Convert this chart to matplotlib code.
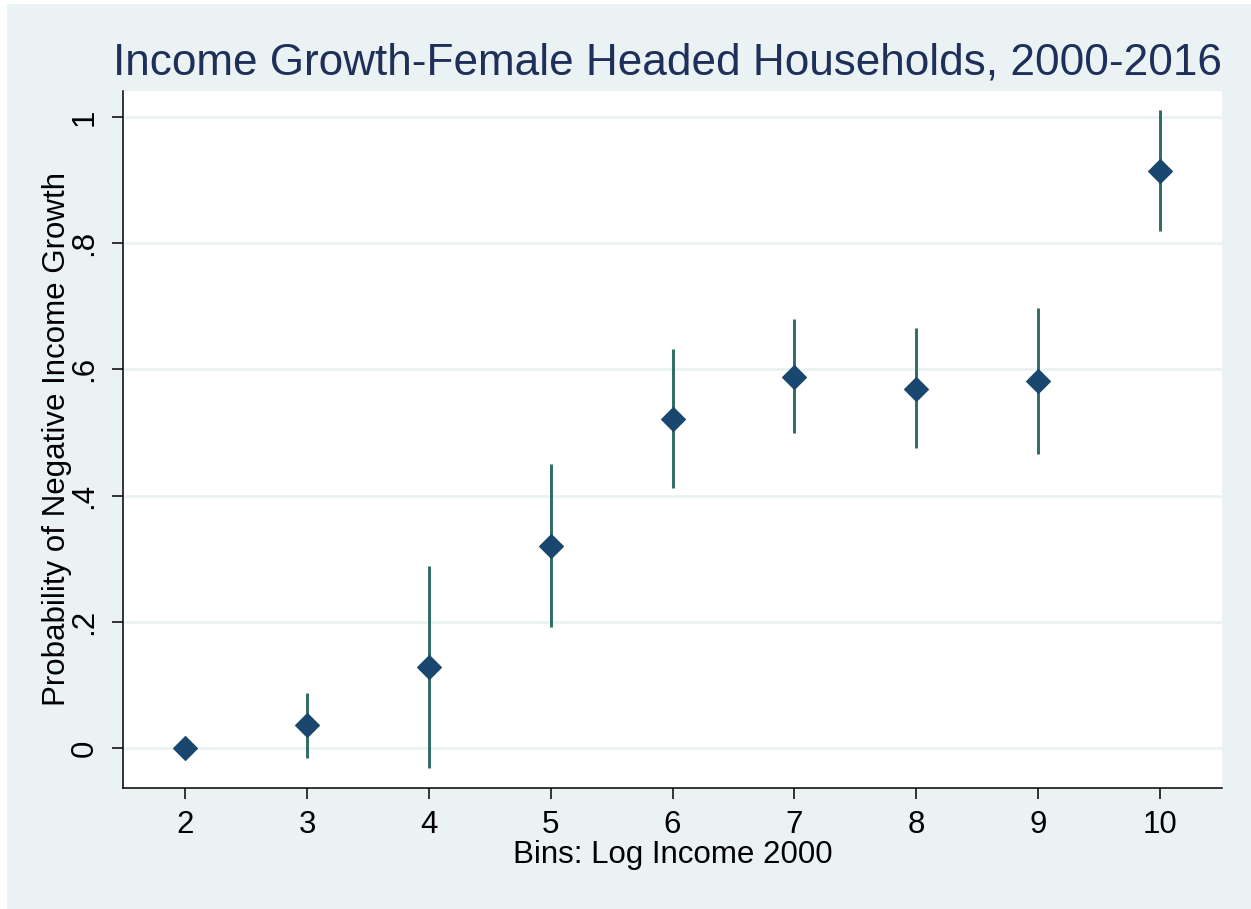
import matplotlib
matplotlib.use("Agg")
import matplotlib.pyplot as plt
from matplotlib.patches import Rectangle

# Data
bins = [2, 3, 4, 5, 6, 7, 8, 9, 10]
prob = [0.0, 0.037, 0.129, 0.320, 0.522, 0.588, 0.569, 0.581, 0.915]
ci_low = [0.0, -0.016, -0.031, 0.192, 0.412, 0.500, 0.475, 0.466, 0.820]
ci_high = [0.0, 0.088, 0.289, 0.450, 0.633, 0.680, 0.665, 0.697, 1.011]
xticks = [2, 3, 4, 5, 6, 7, 8, 9, 10]
yticks = [0, 0.2, 0.4, 0.6, 0.8, 1.0]
ytick_labels = ["0", ".2", ".4", ".6", ".8", "1"]

title = "Income Growth-Female Headed Households, 2000-2016"
xlabel = "Bins: Log Income 2000"
ylabel = "Probability of Negative Income Growth"

plt.rcParams['font.family'] = ['Liberation Sans', 'DejaVu Sans']

W, H = 1251, 909
fig = plt.figure(figsize=(W / 100, H / 100), dpi=100)
fig.patch.set_facecolor('white')
bg = Rectangle((7 / W, 0), 1 - 7 / W, (H - 4) / H, transform=fig.transFigure,
               facecolor='#EAF2F3', edgecolor='none', zorder=-10)
fig.patches.append(bg)

ax = fig.add_axes([123 / W, (H - 788) / H, (1222 - 123) / W, (788 - 91) / H])
ax.set_facecolor('white')

# error bars (no caps)
ax.vlines(bins[1:], ci_low[1:], ci_high[1:], color='#2E6B64', linewidth=2.1, zorder=3)
ax.plot(bins, prob, linestyle='none', marker='D', markersize=11.8,
        markerfacecolor='#1A476F', markeredgecolor='#1A476F', markeredgewidth=0.8, zorder=4)

ax.set_xlim(1.49, 10.51)
ax.set_ylim(-0.063, 1.041)
ax.set_xticks(xticks)
ax.set_xticklabels([str(x) for x in xticks])
ax.set_yticks(yticks)
ax.set_yticklabels(ytick_labels, rotation=90, va='center')

ax.grid(axis='y', color='#EAF2F3', linewidth=2.0, zorder=0)
ax.set_axisbelow(True)

for s in ['top', 'right']:
    ax.spines[s].set_visible(False)
for s in ['left', 'bottom']:
    ax.spines[s].set_linewidth(1.1)
    ax.spines[s].set_color('black')

ax.tick_params(axis='both', direction='out', length=8, width=1.1, labelsize=22.5, colors='black', pad=8)
ax.tick_params(axis='y', pad=9)

ax.set_xlabel(xlabel, fontsize=22.5, labelpad=0)
ax.set_ylabel(ylabel, fontsize=22.5, labelpad=-2)
ax.set_title(title, fontsize=31.8, color='#1E2F5A', pad=12, x=0.495)

fig.savefig("out.png", dpi=100, facecolor=fig.get_facecolor())
